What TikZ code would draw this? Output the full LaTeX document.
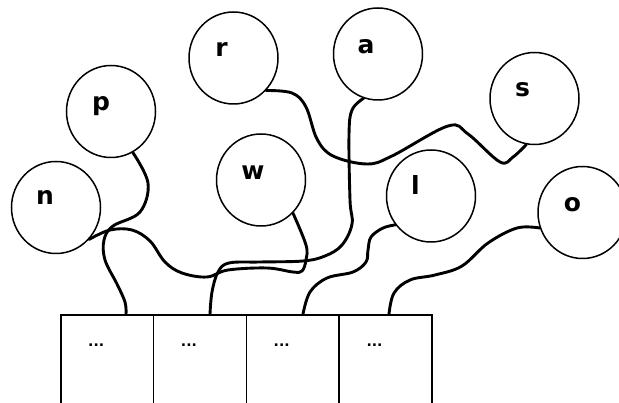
\documentclass[tikz,border=0pt]{standalone}
\usepackage{fontspec}
\newfontfamily\lblfont{DejaVu Sans}
\usetikzlibrary{shapes.geometric,calc}
\begin{document}
\begin{tikzpicture}[x=1pt,y=-1pt,
  person/.style={draw, ellipse, minimum width=89pt, minimum height=92pt, inner sep=0pt, line width=1.5pt},
  letter/.style={inner sep=0pt, anchor=base, font=\lblfont\bfseries\fontsize{25}{25}\selectfont},
  cell/.style={draw, rectangle, anchor=north west, minimum width=92.75pt, minimum height=120pt, inner sep=0pt, line width=1.7pt},
  dotmark/.style={inner sep=0pt, font=\lblfont\bfseries\fontsize{14}{14}\selectfont},
  wire/.style={line width=2.9pt, line cap=round, line join=round}]
\useasboundingbox (0,0) rectangle (619,403);
\fill[white] (0,0) rectangle (619,403);
\clip (0,0) rectangle (619,403);

% people
\node[person] (r) at (233.5,58) {};
\node[person] (p) at (111,111.5) {};
\node[person] (n) at (56,207.5) {};
\node[person] (w) at (261,180) {};
\node[person] (a) at (378,54) {};
\node[person] (s) at (534.5,98.5) {};
\node[person] (l) at (431,196) {};
\node[person] (o) at (582.5,212.5) {};

% letters
\node[letter] (tr) at (221.5,57) {r};
\node[letter] (tp) at (101,111) {p};
\node[letter] (tn) at (45,205) {n};
\node[letter] (tw) at (253,180) {w};
\node[letter] (ta) at (366,54) {a};
\node[letter] (ts) at (522.5,97) {s};
\node[letter] (tl) at (415.5,195) {l};
\node[letter] (to) at (572.5,212) {o};

% cells
\node[cell] (b1) at (60,314) {};
\node[cell] (b2) at (152.75,314) {};
\node[cell] (b3) at (245.5,314) {};
\node[cell] (b4) at (338.25,314) {};
\foreach \i in {1,2,3,4}{
  \node[dotmark] (d\i) at ([xshift=-11pt,yshift=-31pt]b\i.north) {...};
}

\coordinate (e1) at ([xshift=66pt]b1.north west);
\coordinate (e2) at ([xshift=57.25pt]b2.north west);
\coordinate (e3) at ([xshift=57.5pt]b3.north west);
\coordinate (e4) at ([xshift=50.75pt]b4.north west);

% wires
\draw[wire] plot[smooth, tension=0.6] coordinates {(p.-62) (148,183) (140,212) (113,226) (104,240) (105,260) (117,284) (125,302) (e1)};
\draw[wire] plot[smooth, tension=0.6] coordinates {(n.-44) (110,230) (132,230) (150,241) (165,262) (182,273) (207,277) (228,270) (267,268) (293,272) (302,271) (306,260) (306,245) (w.-46)};
\draw[wire] plot[smooth, tension=0.6] coordinates {(a.-108) (352,110) (349,135) (350,200) (352,224) (342,245) (325,256) (303,261) (260,262) (229,263) (218,272) (212,292) (e2)};
\draw[wire] plot[smooth, tension=0.6] coordinates {(r.-45) (292,93) (306,107) (317,139) (333,156) (367,164) (392,156) (448,126) (468,134) (500,162) (513,157) (s.-100)};
\draw[wire] plot[smooth, tension=0.6] coordinates {(l.-141) (383,228) (371,237) (368,250) (366,262) (353,272) (327,278) (310,292) (e3)};
\draw[wire] plot[smooth, tension=0.6] coordinates {(o.-160) (517,228) (488,243) (462,266) (435,275) (410,280) (394,293) (e4)};
\end{tikzpicture}
\end{document}
